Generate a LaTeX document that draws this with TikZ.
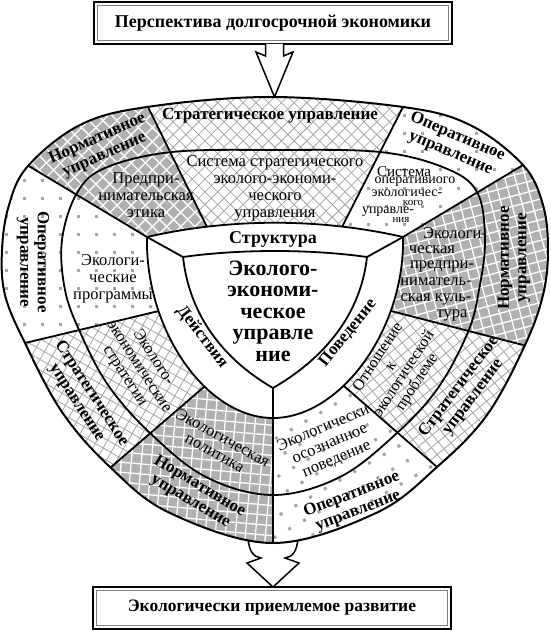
\documentclass[tikz,border=0pt]{standalone}
\usepackage{fontspec}
\setmainfont{Liberation Serif}
\usetikzlibrary{calc}
\definecolor{pgray}{RGB}{176,176,176}
\definecolor{hgray}{RGB}{165,165,165}
\definecolor{dgray}{RGB}{165,165,165}
% outer, middle, inner boundaries
\def\pathBthree{plot[smooth cycle, tension=0.6] coordinates {(270,97) (403,107) (470,125) (523,165) (543,205) (548,250) (543,295) (525,345) (487,415) (437,467) (376,513) (273,543) (170,513) (110,467) (62,412) (25,343) (5,295) (2,250) (9,205) (28,166) (80,125) (147,107)}}
\def\pathBtwo{plot[smooth cycle, tension=0.6] coordinates {(275,150) (380,152) (445,168) (477,192) (485,240) (479,290) (468,332) (438,388) (397,433) (340,477) (273,495) (206,477) (150,433) (108,385) (80,332) (65,290) (62,240) (77,193) (105,168) (172,152)}}
\def\pathBone{(147,237) .. controls (230,218) and (320,218) .. (403,237) .. controls (405,330) and (340,418) .. (273,418) .. controls (206,418) and (145,330) .. (147,237) -- cycle}
\def\pathBzero{(183,257) .. controls (240,249) and (310,249) .. (367,257) .. controls (360,320) and (318,362) .. (273,388) .. controls (228,362) and (190,320) .. (183,257) -- cycle}
% fill patterns
\newcommand\patgrid[3]{%
  \fill[pgray] (#2-300,#3-300) rectangle (#2+300,#3+300);
  \foreach \k in {-28,...,28}{%
    \draw[white,line width=1.3pt,rotate around={#1:(#2,#3)}] (#2+\k*10,#3-290) -- (#2+\k*10,#3+290);
    \draw[white,line width=1.3pt,rotate around={#1:(#2,#3)}] (#2-290,#3+\k*10) -- (#2+290,#3+\k*10);
  }}
\newcommand\pathatch[3]{%
  \fill[white] (#2-300,#3-300) rectangle (#2+300,#3+300);
  \foreach \k in {-32,...,32}{%
    \draw[hgray,line width=0.8pt,rotate around={#1:(#2,#3)}] (#2+\k*9,#3-300) -- (#2+\k*9,#3+300);
    \draw[hgray,line width=0.8pt,rotate around={#1:(#2,#3)}] (#2-300,#3+\k*9) -- (#2+300,#3+\k*9);
  }}
\newcommand\patdots[4]{%
  \fill[white] (#2-300,#3-300) rectangle (#2+300,#3+300);
  \foreach \k in {-14,...,14}{\foreach \m in {-14,...,14}{%
    \fill[dgray,rotate around={#1:(#2,#3)}] (#2+\k*#4-1.5,#3+\m*#4-1.5) rectangle ++(3,3);}}}
\newcommand\sect[3]{%
  \begin{scope}
    \clip \pathBthree;
    \clip (C) -- (P#1) -- (F#1) -- (F#2) -- (P#2) -- cycle;
    #3
  \end{scope}}
\begin{document}
\begin{tikzpicture}[x=1pt,y=-1pt,
  rt/.style={font=\fontsize{16.5}{17}\selectfont, align=center, inner sep=0pt},
  bt/.style={font=\bfseries\fontsize{17}{17.5}\selectfont, align=center, inner sep=0pt},
  bnd/.style={line width=1.8pt, line join=round},
  boxstyle/.style={draw, line width=2.4pt, minimum width=358pt, minimum height=42pt, inner sep=0pt},
  blockarrow/.style={fill=white, draw, line width=1.5pt, line join=miter}]
\useasboundingbox (0,0) rectangle (550,631);
\fill[white] (0,0) rectangle (550,631);

% boxes
\node[boxstyle, font=\bfseries\fontsize{18}{20}\selectfont] (title) at (273,23) {Перспектива долгосрочной экономики};
\draw[gray, line width=0.6pt] ($(title.south west)+(4.5,-4.5)$) rectangle ($(title.north east)+(-4.5,4.5)$);
\node[boxstyle, font=\bfseries\fontsize{17.5}{20}\selectfont] (goal) at (272,608) {Экологически приемлемое развитие};
\draw[gray, line width=0.6pt] ($(goal.south west)+(4.5,-4.5)$) rectangle ($(goal.north east)+(-4.5,4.5)$);

% block arrows
\draw[blockarrow] (265.5,44) -- (265.5,56) -- (256,52) -- (274.5,97) -- (293,52) -- (283.5,56) -- (283.5,44);
\draw[blockarrow] (248,538) .. controls (249,552) and (254,557) .. (261,558) -- (247,563) -- (273,587) -- (299,563) -- (285,558) .. controls (292,557) and (297,552) .. (298,538);

% radial line end points
\coordinate (C) at (275,320);
\coordinate (P1) at (147,237); \coordinate (Q1) at (27,165);
\coordinate (P2) at (207,227); \coordinate (Q2) at (148,107);
\coordinate (P3) at (342,227); \coordinate (Q3) at (403,107);
\coordinate (P4) at (403,237); \coordinate (Q4) at (523,165);
\coordinate (P5) at (387,310); \coordinate (Q5) at (523,345);
\coordinate (P6) at (337,380); \coordinate (Q6) at (437,467);
\coordinate (P7) at (273,418); \coordinate (Q7) at (273,543);
\coordinate (P8) at (212,380); \coordinate (Q8) at (110,468);
\coordinate (P9) at (163,310); \coordinate (Q9) at (25,343);
\foreach \i in {1,...,9}{\coordinate (F\i) at ($(P\i)!4!(Q\i)$);}

% sectors
\fill[white] \pathBthree;
\sect{1}{2}{\patgrid{45}{110}{170}}
\sect{2}{3}{\pathatch{45}{275}{160}}
\sect{3}{4}{\patdots{0}{440}{170}{18}}
\sect{4}{5}{\patgrid{15}{470}{280}}
\sect{5}{6}{\pathatch{40}{430}{390}}
\sect{6}{7}{\patdots{30}{340}{480}{17}}
\sect{7}{8}{\patgrid{-5}{210}{480}}
\sect{8}{9}{\pathatch{60}{110}{400}}
\sect{9}{1}{\patdots{0}{60}{270}{18}}

% radial lines
\begin{scope}
  \clip \pathBthree;
  \foreach \i in {1,...,9}{\draw[bnd] ($(P\i)!-0.05!(Q\i)$) -- ($(P\i)!1.3!(Q\i)$);}
\end{scope}

% inner rings
\fill[white] \pathBone;
\draw[bnd] \pathBone;
\draw[bnd] \pathBzero;
\draw[bnd] (P1) -- (183,257);
\draw[bnd] (P4) -- (367,257);
\draw[bnd] (P7) -- (273,388);
\draw[bnd] \pathBtwo;
\draw[line width=2pt] \pathBthree;

% outer ring labels
\node[bt] (strat1) at (270,116) {Стратегическое управление};
\node[bt, rotate=24] (norm1) at (101,147) {Нормативное\\управление};
\node[bt, rotate=-23] (oper1) at (454,145) {Оперативное\\управление};
\node[bt, rotate=90] (norm2) at (514,258) {Нормативное\\управление};
\node[bt, rotate=53] (strat2) at (466,392) {Стратегическое\\управление};
\node[bt, rotate=21] (oper2) at (355,503) {Оперативное\\управление};
\node[bt, rotate=-31] (norm3) at (195,494) {Нормативное\\управление};
\node[bt, rotate=-57] (strat3) at (84,398) {Стратегическое\\управление};
\node[bt, rotate=-90] (oper3) at (33,262) {Оперативное\\управление};

% middle ring labels
\node[rt] (etika) at (146,195) {Предпри-\\нимательская\\этика};
\node[rt] (sss) at (275,188) {Система стратегического\\эколого-экономи-\\ческого\\управления};
\node[rt, font=\fontsize{15}{15}\selectfont] (soe1) at (404,172) {Система};
\node[rt, font=\fontsize{14}{14}\selectfont] (soe2) at (415,182) {оперативиого};
\node[rt, font=\fontsize{14}{14}\selectfont] (soe3) at (407,193) {экологичес-};
\node[rt, font=\fontsize{11}{11}\selectfont] (soe4) at (413,203) {кого};
\node[rt, font=\fontsize{14}{14}\selectfont] (soe5) at (388,212) {управле-};
\node[rt, font=\fontsize{11}{11}\selectfont] (soe6) at (401,220) {ния};
\node[rt] (ek1) at (455,233) {Экологи-};
\node[rt] (ek2) at (432,250) {ческая};
\node[rt] (ek3) at (442,266) {предпри-};
\node[rt] (ek4) at (436,282) {нимaтель-};
\node[rt] (ek5) at (436,299) {ская куль-};
\node[rt] (ek6) at (452,315) {тура};
\node[rt, rotate=57, font=\fontsize{16}{15.5}\selectfont] (otn) at (398,370) {Отношение\\к\\экологической\\проблеме};
\node[rt, rotate=23] (osozn) at (330,444) {Экологически\\осознанное\\поведение};
\node[rt, rotate=-29] (polit) at (219,445) {Экологическая\\политика};
\node[rt, rotate=-57] (strateco) at (139,367) {Эколого-\\экономические\\стратегии};
\node[rt] (progr) at (113,279) {Экологи-\\ческие\\программы};

% inner ring labels
\node[bt, font=\bfseries\fontsize{18}{18}\selectfont] (struct) at (273,239) {Структура};
\node[bt] (deyst) at (202,337) [rotate=-52] {Действия};
\node[bt, rotate=51] (poved) at (348,333) {Поведение};
\node[bt, font=\bfseries\fontsize{22}{21.5}\selectfont] (core) at (273,311) {Эколого-\\экономи-\\ческое\\управле\\ние};
\end{tikzpicture}
\end{document}
